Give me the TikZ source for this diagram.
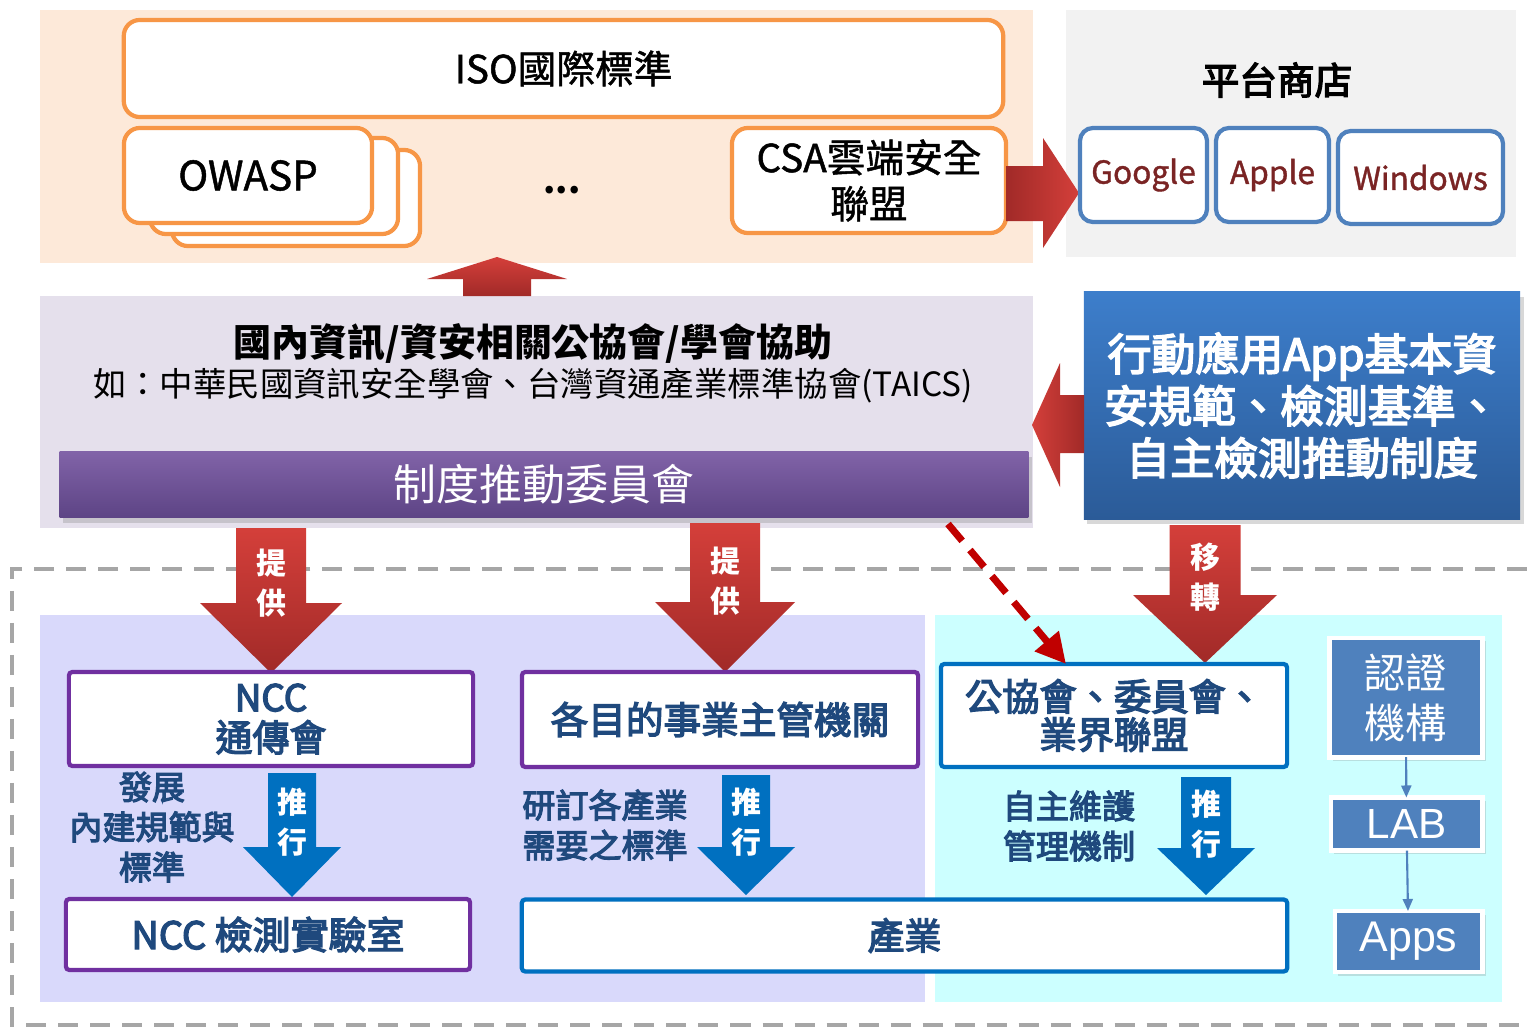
\documentclass[tikz,border=0pt]{standalone}
\usepackage{fontspec}
\setmainfont{Noto Sans CJK TC}
\newfontfamily\arialf{Liberation Sans}
\newfontfamily\medf[FakeBold=3.5]{Noto Sans CJK TC}
\newfontfamily\semf[FakeBold=1.2]{Noto Sans CJK TC}
\usetikzlibrary{arrows.meta,shadows}
\definecolor{peach}{HTML}{FDE9D9}
\definecolor{orangeC}{HTML}{F79646}
\definecolor{storebg}{HTML}{F2F2F2}
\definecolor{storeblue}{HTML}{4F81BD}
\definecolor{storetext}{HTML}{7A2424}
\definecolor{midbg}{HTML}{E5E0EC}
\definecolor{barTop}{HTML}{8163A8}
\definecolor{barBot}{HTML}{5D4485}
\definecolor{boxTop}{HTML}{3D7ECB}
\definecolor{boxBot}{HTML}{2B5B98}
\definecolor{arrLight}{HTML}{D43F3A}
\definecolor{arrDark}{HTML}{A12A28}
\definecolor{lavbg}{HTML}{D9D9FB}
\definecolor{cyanbg}{HTML}{CCFFFF}
\definecolor{dblue}{HTML}{1F497D}
\definecolor{purpleC}{HTML}{7030A0}
\definecolor{blueC}{HTML}{0070C0}
\definecolor{frameC}{HTML}{A6A6A6}
\definecolor{dashred}{HTML}{C00000}
\newcommand\fsz[1]{\fontsize{#1pt}{#1pt}\selectfont}
\newcommand\blkdown[7]{\path[#1] ({#2-#3},#4) -- ({#2+#3},#4) -- ({#2+#3},#5) -- ({#2+#6},#5) -- (#2,#7) -- ({#2-#6},#5) -- ({#2-#3},#5) -- cycle;}
\begin{document}
\begin{tikzpicture}[x=0.01cm,y=-0.01cm,
  every node/.style={inner sep=0pt, outer sep=0pt},
  obox/.style={draw=orangeC, line width=1.2pt, fill=white, rounded corners=0.16cm},
  sbox/.style={draw=storeblue, line width=1.2pt, fill=white, rounded corners=0.13cm, text=storetext, font=\semf\fsz{9}},
  pbox/.style={draw=purpleC, line width=1.2pt, fill=white, rounded corners=1pt, text=dblue},
  bbox/.style={draw=blueC, line width=1.2pt, fill=white, rounded corners=1pt, text=dblue},
  sq/.style={fill=storeblue, draw=white, line width=1.4pt, text=white, drop shadow={shadow xshift=1pt, shadow yshift=-1pt, opacity=0.25}},
  redarrow/.style={top color=arrLight, bottom color=arrDark},
  bluearrow/.style={fill=blueC},
  arrtext/.style={text=white, align=center, font=\bfseries\fontsize{8.5pt}{11.4pt}\selectfont},
  lbl/.style={text=dblue, align=center, font=\medf\fontsize{9.4pt}{11.4pt}\selectfont},
  smallarrow/.style={storeblue, line width=0.6pt, -{Triangle[length=0.12cm,width=0.1cm]}}
]
\useasboundingbox (0,0) rectangle (1527,1027);
\fill[white] (0,0) rectangle (1527,1027);
% panels
\fill[peach] (40,10) rectangle (1033,263);
\fill[storebg] (1066,10) rectangle (1516,257);
\fill[midbg] (40,296) rectangle (1033,528);
\fill[lavbg] (40,615) rectangle (925,1002);
\fill[cyanbg] (935,615) rectangle (1502,1002);
\draw[frameC, line width=1.15pt, dash pattern=on 0.2cm off 0.12cm] (1527,569) -- (12,569) -- (12,1025) -- (1527,1025);

% top standards
\node[obox, minimum width=8.79cm, minimum height=0.97cm, font=\semf\fsz{11}] (iso) at (563.5,68.5) {ISO國際標準};
\node[obox, minimum width=2.48cm, minimum height=0.96cm] (owasp3) at (296,198) {};
\node[obox, minimum width=2.48cm, minimum height=0.96cm] (owasp2) at (274,186) {};
\node[obox, minimum width=2.48cm, minimum height=0.95cm, font=\semf\fsz{11.5}] (owasp) at (248,175.5) {OWASP};
\node[font=\bfseries\fsz{10}] (dots) at (562,190) {...};
\node[obox, minimum width=2.74cm, minimum height=1.05cm, align=center, font=\semf\fontsize{11pt}{13.1pt}\selectfont] (csa) at (869,180.5) {CSA雲端安全\\聯盟};
\path[left color=arrDark, right color=arrLight] (1006,166) -- (1043,166) -- (1043,138) -- (1079,193) -- (1043,248) -- (1043,221) -- (1006,221) -- cycle;

% store
\node[font=\medf\fsz{10.7}] (storet) at (1277,80) {平台商店};
\node[sbox, minimum width=1.27cm, minimum height=0.94cm] (google) at (1143.5,175) {Google};
\node[sbox, minimum width=1.13cm, minimum height=0.94cm] (apple) at (1272.5,175) {Apple};
\node[sbox, minimum width=1.65cm, minimum height=0.93cm] (windows) at (1420.5,177.5) {Windows};

% up arrow
\path[top color=arrLight, bottom color=arrDark] (463,296) -- (463,279) -- (427,279) -- (497,257) -- (567,279) -- (531,279) -- (531,296) -- cycle;

% middle
\node[font=\bfseries\fsz{10.8}] (hd) at (533,343) {國內資訊/資安相關公協會/學會協助};
\node[font=\fsz{9.5}] (sub) at (533,386) {如：中華民國資訊安全學會、台灣資通產業標準協會(TAICS)};
\node[top color=barTop, bottom color=barBot, minimum width=9.68cm, minimum height=0.66cm, text=white, font=\fsz{12.2}, drop shadow={shadow xshift=1pt, shadow yshift=-1.5pt, opacity=0.3}] (bar) at (544,484.5) {制度推動委員會};
\node[top color=boxTop, bottom color=boxBot, minimum width=4.36cm, minimum height=2.27cm, text=white, align=center, font=\medf\fontsize{12.5pt}{14.8pt}\selectfont, drop shadow={shadow xshift=1pt, shadow yshift=-1.5pt, opacity=0.3}] (std) at (1302,405.5) {行動應用App基本資\\安規範、檢測基準、\\自主檢測推動制度};
\path[left color=arrLight, right color=arrDark] (1084,395) -- (1060,395) -- (1060,363) -- (1032,425) -- (1060,487) -- (1060,453) -- (1084,453) -- cycle;

% red down arrows
\blkdown{redarrow}{271}{35}{528}{603}{71}{673}
\blkdown{redarrow}{725}{35}{523}{602}{70}{672}
\blkdown{redarrow}{1205}{35.5}{525}{595}{72}{663}
\node[arrtext] (prov1) at (271,583) {提\\供};
\node[arrtext] (prov2) at (725,581) {提\\供};
\node[arrtext] (trans) at (1205,577.5) {移\\轉};

% lower boxes
\node[pbox, minimum width=4.04cm, minimum height=0.94cm, align=center, font=\medf\fontsize{10.5pt}{11.4pt}\selectfont] (ncc) at (271,719) {NCC\\通傳會};
\node[pbox, minimum width=4.04cm, minimum height=0.71cm, font=\medf\fsz{10.8}] (ncclab) at (268,934.5) {NCC 檢測實驗室};
\node[pbox, minimum width=3.96cm, minimum height=0.95cm, font=\medf\fsz{10.7}] (agency) at (720,719.5) {各目的事業主管機關};
\node[bbox, minimum width=7.65cm, minimum height=0.72cm, font=\medf\fsz{10.5}] (industry) at (904.5,935.5) {產業};
\node[bbox, minimum width=3.46cm, minimum height=1.03cm, align=center, font=\medf\fontsize{10.6pt}{10.8pt}\selectfont] (assoc) at (1114,715.5) {公協會、委員會、\\業界聯盟};

\node[lbl] (dev) at (152,827) {發展\\內建規範與\\標準};
\node[lbl, align=left] (res) at (605,825) {研訂各產業\\需要之標準};
\node[lbl] (selfm) at (1069,826) {自主維護\\管理機制};

% blue arrows
\blkdown{bluearrow}{292}{24}{773}{847}{49}{897}
\blkdown{bluearrow}{746}{24}{775}{847}{49}{895}
\blkdown{bluearrow}{1206}{25}{777}{848}{49}{895}
\node[arrtext] (push1) at (292,822.5) {推\\行};
\node[arrtext] (push2) at (746,822.5) {推\\行};
\node[arrtext] (push3) at (1206,824) {推\\行};

% dashed red arrow
\coordinate (dstart) at (948,524);
\draw[dashred, line width=2pt, dash pattern=on 0.22cm off 0.12cm, -{Triangle[length=0.3cm,width=0.3cm]}] (dstart) -- ([xshift=1.25cm]assoc.north west);

% certification chain
\node[sq, minimum width=1.525cm, minimum height=1.19cm, align=center, font=\fontsize{11.7pt}{14.2pt}\selectfont] (cert) at (1405.75,697.5) {認證\\機構};
\node[sq, minimum width=1.51cm, minimum height=0.53cm, font=\arialf\fsz{12}] (lab) at (1406.5,824) {LAB};
\node[sq, minimum width=1.47cm, minimum height=0.61cm, font=\arialf\fsz{12.2}] (apps) at (1408.5,941.5) {Apps};
\draw[smallarrow] (cert) -- (lab);
\draw[smallarrow] (lab) -- (apps);
\end{tikzpicture}
\end{document}
